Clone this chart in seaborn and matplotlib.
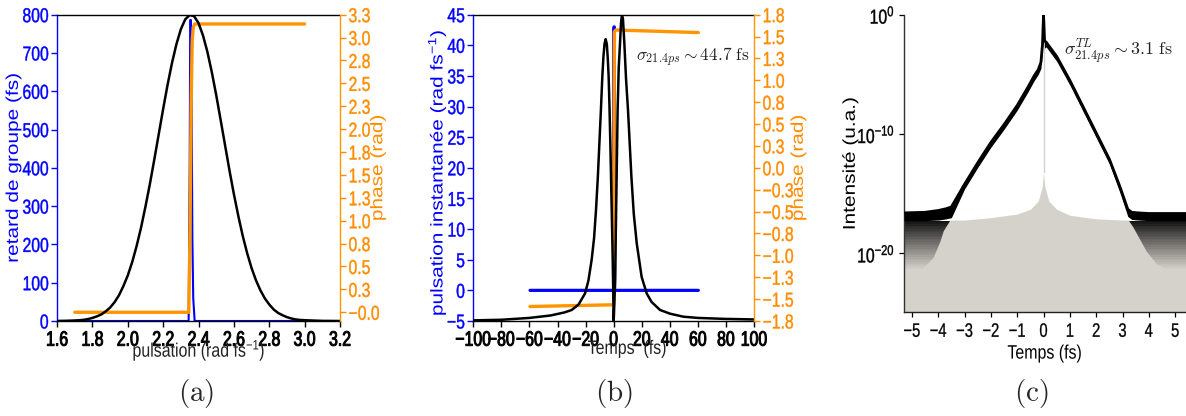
import matplotlib
matplotlib.use("Agg")
import matplotlib.pyplot as plt
import numpy as np
import seaborn as sns
from matplotlib.colors import to_rgb
from matplotlib.patheffects import AbstractPathEffect
from matplotlib.transforms import Affine2D

# ---- (a) spectre, retard de groupe et phase spectrale
PULS_SPECTRE = [1.600, 1.650, 1.700, 1.725, 1.750, 1.775, 1.800, 1.825, 1.850, 1.875,
                1.900, 1.925, 1.950, 1.975, 2.000, 2.025, 2.050, 2.075, 2.100, 2.125,
                2.150, 2.175, 2.200, 2.225, 2.250, 2.275, 2.300, 2.325, 2.350, 2.375,
                2.400, 2.425, 2.450, 2.475, 2.500, 2.525, 2.550, 2.575, 2.600, 2.625,
                2.650, 2.675, 2.700, 2.725, 2.750, 2.775, 2.800, 2.825, 2.850, 2.875,
                2.900, 2.925, 2.950, 2.975, 3.000, 3.100, 3.200]
SPECTRE = [0.1, 0.5, 1.3, 2, 3, 5, 8, 12, 17, 25,
           35, 49, 67, 91, 119, 154, 196, 244, 299, 358,
           422, 488, 554, 617, 674, 723, 762, 788, 799, 796,
           778, 746, 703, 650, 590, 525, 459, 393, 331, 274,
           222, 177, 138, 106, 80, 59, 43, 30, 21, 15,
           10, 6.5, 4, 2.7, 2, 0.3, 0]
PULS_RETARD = [1.70, 2.344, 2.350, 2.353, 2.357, 2.361, 2.365, 2.370, 2.378, 3.00]
RETARD = [0, 0, 400, 786, 786, 560, 220, 60, 0, 0]
PULS_PHASE = [1.70, 2.345, 2.352, 2.358, 2.364, 2.370, 2.378, 3.00]
PHASE_SPECTRALE = [0.0, 0.0, 0.9, 2.3, 3.0, 3.16, 3.197, 3.197]

XTICKS_A = [1.6, 1.8, 2.0, 2.2, 2.4, 2.6, 2.8, 3.0, 3.2]
YTICKS_A = [0, 100, 200, 300, 400, 500, 600, 700, 800]
PHASE_TICKS_A = ["\u22120.0", "0.3", "0.5", "0.8", "1.0", "1.3", "1.5", "1.8", "2.0", "2.3",
                 "2.5", "2.8", "3.0", "3.3"]

# ---- (b) profil temporel, pulsation instantanee et phase temporelle
TEMPS_INT = [-100, -80, -60, -45, -35, -29.9, -25, -20.4, -18, -15.7,
             -14, -12.6, -11.3, -10.2, -9.1, -8.1, -7.3, -6.5, -5.7, -4.9,
             -4.2, -3.6, -3.0, -2.4, -1.9, -1.4, -0.7, -0.3, 0.0, 0.4,
             0.7, 1.1, 1.4, 1.7, 2.1, 2.8, 3.6, 4.5, 5.2, 5.9,
             6.6, 7.6, 8.8, 10.2, 12.6, 14.3, 16.4, 19.9, 23.5, 27,
             33, 40, 49.6, 60, 78, 100]
INTENS_TEMP = [-4.9, -4.8, -4.5, -4.1, -3.6, -3.2, -2.3, -0.5, 1.6, 5.0,
               8.5, 13.1, 18.5, 24.0, 29.5, 34.9, 38.2, 40.3, 41.0, 40.2,
               37.8, 34.9, 30.0, 24.0, 18.5, 13.1, 5.0, -0.5, -5.0, -2.5,
               -0.5, 2.2, 7.7, 12.5, 18.6, 29.4, 36.5, 40.3, 43.6, 45.0,
               44.3, 40.3, 34.5, 29.4, 18.6, 12.5, 7.7, 2.2, -0.5, -1.9,
               -3.2, -3.8, -4.3, -4.5, -4.65, -4.75]
TEMPS_PULS = [-59.6, 0.1, 0.2, 0.45, 0.6, 60.3]
PULS_INST = [0, 0, 43, 43, 0, 0]
TEMPS_PHASE = [-59.6, -1.4, 0.0, 0.2, 0.5, 1.5, 60.3]
PHASE_TEMP = [-1.63, -1.61, -1.61, 0.0, 1.60, 1.62, 1.59]

XTICKS_B = [-100, -80, -60, -40, -20, 0, 20, 40, 60, 80, 100]
YTICKS_B = [-5, 0, 5, 10, 15, 20, 25, 30, 35, 40, 45]
PHASE_TICKS_B = ["\u22121.8", "\u22121.5", "\u22121.3", "\u22121.0", "\u22120.8", "\u22120.5", "\u22120.3",
                 "0.0", "0.3", "0.5", "0.8", "1.0", "1.3", "1.5", "1.8"]

# ---- (c) intensite (log10) limitee par transformee de Fourier
TEMPS_ENV = [-5.30, -4.5, -4.0, -3.7, -3.5, -3.0, -2.5, -2.0, -1.5, -1.0,
             -0.6, -0.35, -0.2, -0.1, -0.04, 0.0, 0.04, 0.1, 0.2, 0.5,
             1.0, 1.5, 2.0, 2.5, 2.9, 3.2, 3.35, 3.6, 4.0, 4.5, 5.41]
LOG_ENV_HAUT = [-16.6, -16.55, -16.4, -16.25, -16.1, -14.2, -12.4, -10.7, -9.2, -7.6,
                -6.1, -5.1, -4.6, -4.0, -2.5, 0.0, -2.2, -2.3, -2.6, -3.5,
                -5.5, -7.7, -9.9, -12.1, -14.4, -16.3, -16.55, -16.6, -16.65, -16.65, -16.65]
LOG_ENV_BAS = [-17.25, -17.25, -17.2, -17.1, -17.0, -14.6, -12.8, -11.1, -9.6, -8.0,
               -6.5, -5.5, -5.0, -4.5, -3.0, -1.0, -2.8, -2.7, -3.0, -3.9,
               -5.9, -8.1, -10.3, -12.5, -14.9, -16.9, -17.15, -17.2, -17.25, -17.25, -17.25]
TEMPS_GRIS = [-5.30, -4.7, -4.57, -4.19, -3.94, -3.81, -3.56, -3.0, -2.0, -1.0,
              -0.5, -0.2, -0.05, 0.0, 0.05, 0.2, 0.5, 1.0, 2.0, 3.0,
              3.22, 3.4, 3.6, 3.9, 4.3, 4.7, 5.41]
LOG_GRIS = [-21.3, -21.3, -21.2, -20.3, -19.0, -18.1, -17.2, -17.2, -17.0, -16.7,
            -16.3, -15.6, -14.4, -13.2, -14.4, -15.6, -16.3, -16.8, -17.1, -17.2,
            -17.2, -17.8, -18.6, -19.8, -20.9, -21.3, -21.3]
XTICKS_C = [-5, -4, -3, -2, -1, 0, 1, 2, 3, 4, 5]
YTICKS_C = [1e0, 1e-10, 1e-20]
YLABELS_C = ["$10^{0}$", "$10^{-10}$", "$10^{-20}$"]

BLEU = "#0000ff"
ORANGE = "#ff9500"
ORANGE_TXT = "#ff8c00"
GRIS_CLAIR = "#d5d2cb"
TASSEMENT = 0.82  # la figure d'origine est comprimee horizontalement


class Etroit(AbstractPathEffect):
    """Comprime le texte (coordonnees locales du glyphe) autour d'un point d'ancrage."""

    def __init__(self, sx=1.0, sy=1.0, ax="center", ay="center", gras=0.0):
        super().__init__()
        self.sx, self.sy, self.ax, self.ay, self.gras = sx, sy, ax, ay, gras

    def draw_path(self, renderer, gc, tpath, affine, rgbFace=None):
        ext = tpath.get_extents()
        cx = {"left": ext.x0, "right": ext.x1}.get(self.ax, (ext.x0 + ext.x1) / 2)
        cy = {"bottom": ext.y0, "top": ext.y1}.get(self.ay, (ext.y0 + ext.y1) / 2)
        t = Affine2D().translate(-cx, -cy).scale(self.sx, self.sy).translate(cx, cy) + affine
        gc0 = renderer.new_gc()
        gc0.copy_properties(gc)
        gc0.set_linewidth(self.gras)
        renderer.draw_path(gc0, tpath, t, rgbFace)
        gc0.restore()


def moins(v):
    return f"{v:g}".replace("-", "\u2212")


sns.set_theme(style="ticks")
plt.rcParams["font.family"] = ["Liberation Sans", "DejaVu Sans"]
plt.rcParams["mathtext.fontset"] = "custom"
plt.rcParams["mathtext.rm"] = "Liberation Sans"
plt.rcParams["mathtext.it"] = "Liberation Sans:italic"
plt.rcParams["mathtext.bf"] = "Liberation Sans:bold"
plt.rcParams["axes.linewidth"] = 1.0
XTICK_FS = 15
YTICK_FS = 14.5
LABEL_FS = 15
XLABEL_FS = 14

fig = plt.figure(figsize=(11.86, 4.16), dpi=100)


def style_double(ax, tw):
    for side in ("top", "bottom"):
        ax.spines[side].set_color("black")
        tw.spines[side].set_visible(False)
    ax.spines["left"].set_color(BLEU)
    ax.spines["right"].set_visible(False)
    tw.spines["left"].set_visible(False)
    tw.spines["right"].set_color(ORANGE)
    ax.tick_params(axis="y", colors=BLEU, length=4, width=1, pad=2)
    ax.tick_params(axis="x", colors="black", length=4, width=1, pad=3)
    tw.tick_params(axis="y", colors=ORANGE_TXT, length=4, width=1, pad=2)


# ---------- (a)
ax_a = fig.add_axes([0.0481, 0.2284, 0.2386, 0.7363])
tw_a = ax_a.twinx()
sns.lineplot(x=PULS_RETARD, y=RETARD, ax=ax_a, color=BLEU, lw=1.5, sort=False, estimator=None)
sns.lineplot(x=PULS_PHASE, y=PHASE_SPECTRALE, ax=tw_a, color=ORANGE, lw=2.4, sort=False, estimator=None)
sns.lineplot(x=PULS_SPECTRE, y=SPECTRE, ax=tw_a, color="black", lw=1.8, sort=False,
             estimator=None, transform=ax_a.transData)
ax_a.set_xlim(1.6, 3.2)
ax_a.set_ylim(0, 800)
tw_a.set_ylim(-0.0965, 3.3)
ax_a.set_xticks(XTICKS_A, [f"{v:.1f}" for v in XTICKS_A], fontsize=XTICK_FS)
ax_a.set_yticks(YTICKS_A, [moins(v) for v in YTICKS_A], fontsize=YTICK_FS)
tw_a.set_yticks(np.linspace(0, 3.3, len(PHASE_TICKS_A)), PHASE_TICKS_A, fontsize=YTICK_FS)
style_double(ax_a, tw_a)
ax_a.set_xlabel("pulsation (rad fs$^{-1}$)", fontsize=XLABEL_FS, color="#222222")
ax_a.xaxis.set_label_coords(0.502, -0.055)
ax_a.set_ylabel("retard de groupe (fs)", color=BLEU, fontsize=LABEL_FS)
ax_a.yaxis.set_label_coords(-0.127, 0.5)
tw_a.set_ylabel("phase (rad)", color=ORANGE_TXT, fontsize=LABEL_FS)
tw_a.yaxis.set_label_coords(1.106, 0.5)

# ---------- (b)
ax_b = fig.add_axes([0.3991, 0.2284, 0.2367, 0.7363])
tw_b = ax_b.twinx()
sns.lineplot(x=TEMPS_PULS, y=PULS_INST, ax=ax_b, color=BLEU, lw=2.3, sort=False, estimator=None)
sns.lineplot(x=TEMPS_PHASE, y=PHASE_TEMP, ax=tw_b, color=ORANGE, lw=2.4, sort=False, estimator=None)
sns.lineplot(x=TEMPS_INT, y=INTENS_TEMP, ax=tw_b, color="black", lw=1.8, sort=False,
             estimator=None, transform=ax_b.transData)
ax_b.set_xlim(-100, 100)
ax_b.set_ylim(-5, 45)
tw_b.set_ylim(-1.8, 1.8)
ax_b.set_xticks(XTICKS_B, [moins(v) for v in XTICKS_B], fontsize=XTICK_FS)
ax_b.set_yticks(YTICKS_B, [moins(v) for v in YTICKS_B], fontsize=YTICK_FS)
tw_b.set_yticks(np.linspace(-1.8, 1.8, len(PHASE_TICKS_B)), PHASE_TICKS_B, fontsize=YTICK_FS)
style_double(ax_b, tw_b)
ax_b.set_xlabel("Temps  (fs)", fontsize=XLABEL_FS, color="#222222")
ax_b.xaxis.set_label_coords(0.549, -0.065)
ax_b.set_ylabel("pulsation instantanée (rad fs$^{-1}$)", color=BLEU, fontsize=LABEL_FS)
ax_b.yaxis.set_label_coords(-0.09, 0.485)
tw_b.set_ylabel("phase (rad)", color=ORANGE_TXT, fontsize=LABEL_FS)
tw_b.yaxis.set_label_coords(1.13, 0.5)
ax_b.text(0.781, 0.862, r"$\sigma_{21.4ps} \sim 44.7\ \mathrm{fs}$", transform=ax_b.transAxes,
          ha="center", va="center", fontsize=12.5, color="#222222", math_fontfamily="cm")

# ---------- (c)
ax_c = fig.add_axes([0.7622, 0.25, 0.2378, 0.7147])
ax_c.set_yscale("log")
niveaux = np.linspace(-17.25, -21.4, 31)
noir, clair = np.array(to_rgb("#111111")), np.array(to_rgb(GRIS_CLAIR))
for i in range(len(niveaux) - 1):
    t = (i / (len(niveaux) - 2)) ** 0.9
    ax_c.axhspan(10 ** niveaux[i + 1], 10 ** niveaux[i], color=noir + (clair - noir) * t, lw=0, zorder=1)
ax_c.fill_between(TEMPS_GRIS, 1e-26, 10 ** np.array(LOG_GRIS), color=GRIS_CLAIR, lw=0, zorder=2)
ax_c.plot([0, 0], [10 ** -13.2, 10 ** -0.5], color=GRIS_CLAIR, lw=1.0, zorder=2.2)
ax_c.fill_between(TEMPS_ENV, 10 ** np.array(LOG_ENV_BAS), 10 ** np.array(LOG_ENV_HAUT),
                  color="black", lw=0, zorder=3)
sns.lineplot(x=TEMPS_ENV, y=10 ** np.array(LOG_ENV_HAUT), ax=ax_c, color="black", lw=2.0,
             sort=False, estimator=None, zorder=4)
ax_c.set_xlim(-5.30, 5.41)
ax_c.set_ylim(10 ** -24.9, 1)
ax_c.set_xticks(XTICKS_C, [moins(v) for v in XTICKS_C], fontsize=14)
ax_c.set_yticks(YTICKS_C, YLABELS_C, fontsize=YTICK_FS)
ax_c.yaxis.set_minor_locator(matplotlib.ticker.NullLocator())
ax_c.spines["top"].set_visible(False)
ax_c.spines["right"].set_visible(False)
ax_c.spines["left"].set_color("#333333")
ax_c.spines["bottom"].set_color("#222222")
ax_c.tick_params(colors="black", length=3.5, width=0.9, pad=3)
ax_c.tick_params(axis="x", pad=5)
ax_c.set_xlabel("Temps (fs)", fontsize=XLABEL_FS, color="black")
ax_c.xaxis.set_label_coords(0.5, -0.113)
ax_c.set_ylabel("Intensité (u.a.)", fontsize=LABEL_FS, color="black")
ax_c.yaxis.set_label_coords(-0.163, 0.5)
ax_c.text(0.759, 0.875, r"$\sigma^{TL}_{21.4ps} \sim 3.1\ \mathrm{fs}$", transform=ax_c.transAxes,
          ha="center", va="center", fontsize=13, color="#222222", math_fontfamily="cm")

# ---------- legendes (a) (b) (c)
for x, lettre in [(0.165, "a"), (0.518, "b"), (0.870, "c")]:
    fig.text(x, 0.053, rf"$\mathrm{{({lettre})}}$", ha="center", va="center", fontsize=21,
             math_fontfamily="cm")

# ---------- texte tasse horizontalement comme dans la figure d'origine
for ax, gras_x in ((ax_a, 0.7), (ax_b, 0.7), (ax_c, 0.2)):
    for lbl in ax.get_xticklabels():
        lbl.set_path_effects([Etroit(sx=0.76, gras=gras_x)])
    for lbl in ax.get_yticklabels():
        lbl.set_path_effects([Etroit(sx=0.78, ax="right", gras=0.3)])
    ax.xaxis.label.set_path_effects([Etroit(sx=TASSEMENT)])
    ax.yaxis.label.set_path_effects([Etroit(sy=TASSEMENT, ay="bottom")])
for tw in (tw_a, tw_b):
    for lbl in tw.get_yticklabels():
        lbl.set_path_effects([Etroit(sx=0.78, ax="left", gras=0.3)])
    tw.yaxis.label.set_path_effects([Etroit(sy=TASSEMENT, ay="top")])

fig.savefig("out.png", dpi=100)
